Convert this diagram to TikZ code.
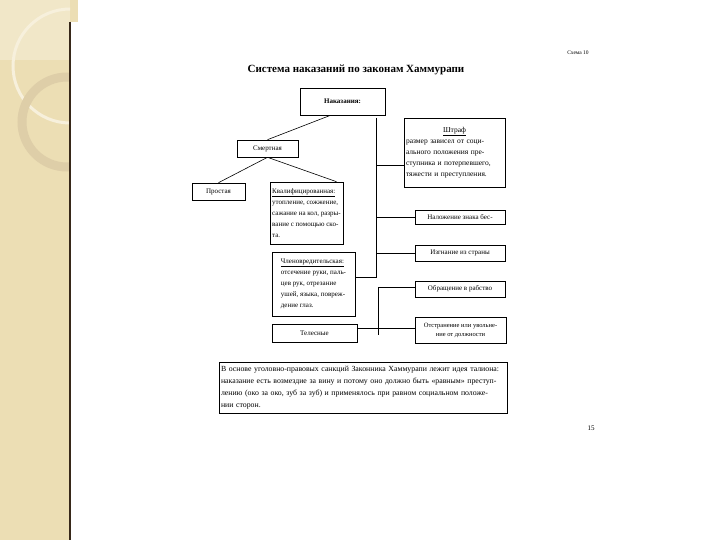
\documentclass[tikz,border=0pt]{standalone}
\usepackage{fontspec}
\setmainfont{Liberation Serif}
\usetikzlibrary{positioning}
\definecolor{stripbeige}{RGB}{236,222,180}
\definecolor{stripdark}{RGB}{55,40,25}
\definecolor{ringbeige}{RGB}{222,206,168}
\definecolor{ringlight}{RGB}{247,240,220}

\begin{document}
\begin{tikzpicture}[x=1pt,y=-1pt,
box/.style={draw,line width=0.6pt,inner sep=2pt,font=\fontsize{7}{11}\selectfont},
txtbox/.style={box,align=left},
lnk/.style={line width=0.6pt}]
\useasboundingbox (0,0) rectangle (720,540);
% slide strip on the left
\fill[stripbeige] (0,0) rectangle (70,540);
\fill[stripbeige] (70,0) rectangle (78,22);
\begin{scope}
\clip (0,0) rectangle (70,540);
\fill[ringlight,opacity=0.5] (0,0) rectangle (70,60);
\draw[ringlight,line width=3pt] (70,66) circle[radius=57];
\draw[ringbeige,line width=9pt] (67,122) circle[radius=45];
\end{scope}
\draw[stripdark,line width=1.5pt] (70,22) -- (70,540);

% headings
\node[font=\fontsize{5.5}{7}\selectfont] (schema) at (578,53) {Схема 10};
\node[font=\bfseries\fontsize{11}{13}\selectfont] (title) at (356,70) {Система наказаний по законам Хаммурапи};

% left tree
\node[box,minimum width=85pt,minimum height=27pt] (nak) at (342.5,101.5) {\bfseries Наказания:};
\node[box,minimum width=61pt,minimum height=17pt] (smert) at (267.5,148.5) {Смертная};
\node[box,minimum width=53pt,minimum height=17pt] (prost) at (218.5,191.5) {Простая};
\node[txtbox,minimum width=73pt,minimum height=62pt] (kval) at (306.5,213) {\underline{Квалифицированная:}\\утопление, сожжение,\\сажание на кол, разры-\\вание с помощью ско-\\та.};
\node[txtbox,minimum width=83pt,minimum height=64pt] (chlen) at (313.5,284) {\underline{Членовредительская:}\\отсечение руки, паль-\\цев рук, отрезание\\ушей, языка, повреж-\\дение глаз.};
\node[box,minimum width=85pt,minimum height=18pt] (tel) at (314.5,333) {Телесные};

% right column
\node[txtbox,text width=97pt,minimum height=69pt,font=\fontsize{7.5}{11}\selectfont] (shtraf) at (454.5,152.5) {\hfill\underline{Штраф}\hfill\null\\размер зависел от соци-\\ального положения пре-\\ступника и потерпевшего,\\тяжести и преступления.};
\node[box,minimum width=90pt,minimum height=14pt] (znak) at (460,217) {Наложение знака бес-};
\node[box,minimum width=90pt,minimum height=16pt] (izg) at (460,253) {Изгнание из страны};
\node[box,minimum width=90pt,minimum height=16pt] (rab) at (460,289) {Обращение в рабство};
\node[box,align=center,minimum width=91pt,minimum height=26pt,font=\fontsize{6.5}{9}\selectfont] (otstr) at (460.5,330) {Отстранение или увольне-\\ние от должности};

% note
\node[txtbox,text width=284pt,minimum height=51pt,font=\fontsize{7.8}{12}\selectfont] (note) at (363,387.5) {В основе уголовно-правовых санкций Законника Хаммурапи лежит идея талиона:\\наказание есть возмездие за вину и потому оно должно быть «равным» преступ-\\лению (око за око, зуб за зуб) и применялось при равном социальном положе-\\нии сторон.};
\node[font=\fontsize{7}{8}\selectfont] (pagenum) at (591,428) {15};

% connectors
\coordinate (tA) at (376,118);
\coordinate (tB) at (376,277);
\coordinate (tC) at (378,287);
\coordinate (tD) at (378,335);
\draw[lnk] ([xshift=-12pt]nak.south) -- (smert.north);
\draw[lnk] (smert.south) -- (prost.north);
\draw[lnk] (smert.south) -- ([xshift=30pt]kval.north);
\draw[lnk] (tA) -- (tB) -- (chlen.east |- tB);
\draw[lnk] (tA |- 0,165) -- (shtraf.west |- 0,165);
\draw[lnk] (tA |- znak) -- (znak.west);
\draw[lnk] (tA |- izg) -- (izg.west);
\draw[lnk] (tC) -- (tD);
\draw[lnk] (tC) -- (rab.west |- tC);
\draw[lnk] (tel.east |- 0,328) -- (otstr.west |- 0,328);
\end{tikzpicture}
\end{document}
